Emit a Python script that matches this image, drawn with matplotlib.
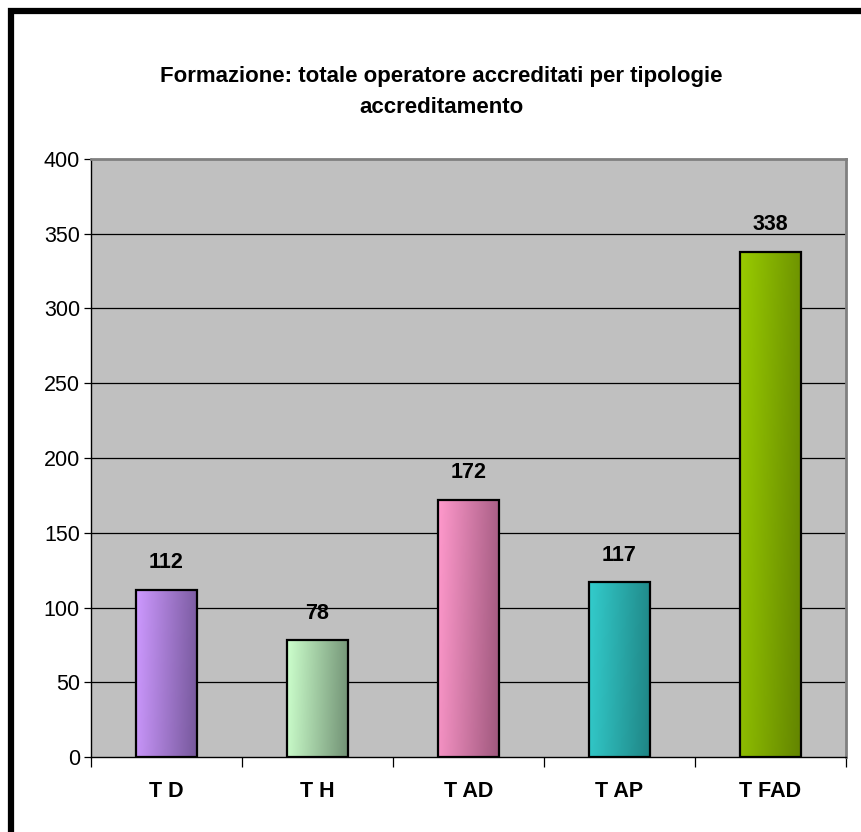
#!/usr/bin/env python3

import numpy as np
import matplotlib
matplotlib.use("Agg")
import matplotlib.pyplot as plt
from matplotlib.patches import Rectangle
from matplotlib.colors import LinearSegmentedColormap

plt.rcParams['font.family'] = ['Liberation Sans', 'DejaVu Sans']

categories = ["T D", "T H", "T AD", "T AP", "T FAD"]
values = [112, 78, 172, 117, 338]
title = "Formazione: totale operatore accreditati per tipologie\naccreditamento"

# light / dark end of each bar's shading
lightCols = ["#cd99ff", "#ccffcc", "#ff99cc", "#33cccc", "#99cc00"]
darkCols = ["#5e4680", "#56705a", "#8a4a6c", "#1a7272", "#5e7e00"]

W, H = 861, 832
fig = plt.figure(figsize=(W/100, H/100), dpi=100)
fig.patch.set_facecolor("white")

ax = fig.add_axes([91/W, 1 - 757/H, (846-91)/W, (757-159)/H])
ax.set_facecolor("#c0c0c0")

xs = np.arange(len(categories))
barW = 0.4

for y in range(50, 400, 50):
    ax.axhline(y, color="black", lw=0.9, zorder=1)

# mostly horizontal gradient, a bit darker towards the bottom
gx, gy = np.meshgrid(np.linspace(0, 1, 60), np.linspace(0, 1, 200))
for i in range(len(values)):
    rect = Rectangle((xs[i] - barW/2, 0), barW, values[i], facecolor="none",
                     edgecolor="black", lw=1.6, zorder=4)
    ax.add_patch(rect)
    cmap = LinearSegmentedColormap.from_list("c%d" % i, [lightCols[i], darkCols[i]])
    t = 0.75*gx + 0.25*(1 - gy)*(values[i]/400.0)
    img = ax.imshow(t, cmap=cmap, vmin=0, vmax=1.05, origin="lower", aspect="auto",
                    extent=(xs[i] - barW/2, xs[i] + barW/2, 0, values[i]),
                    zorder=3, interpolation="bilinear")
    img.set_clip_path(rect)
    ax.text(xs[i], values[i] + 18, str(values[i]), ha="center", va="center",
            fontsize=15.5, fontweight="bold", zorder=5)

ax.set_xlim(-0.5, len(categories) - 0.5)
ax.set_ylim(0, 400)

ax.set_yticks(range(0, 401, 50))
ax.tick_params(axis="y", direction="out", length=5, width=0.9, labelsize=15.5, pad=3)
ax.set_xticks(np.arange(-0.5, len(categories), 1.0))
ax.set_xticklabels([])
ax.set_xticks(xs, minor=True)
ax.set_xticklabels(categories, minor=True, fontsize=15.5, fontweight="bold")
ax.tick_params(axis="x", which="major", direction="out", length=7, width=0.9)
ax.tick_params(axis="x", which="minor", length=0, pad=17)

ax.spines["left"].set_color("black")
ax.spines["bottom"].set_color("black")
ax.spines["left"].set_linewidth(1.0)
ax.spines["bottom"].set_linewidth(1.0)
ax.spines["top"].set_color("#808080")
ax.spines["right"].set_color("#808080")
ax.spines["top"].set_linewidth(2.0)
ax.spines["right"].set_linewidth(2.0)

fig.text(0.5 * (148 + 735) / W, 1 - 92/H, title, ha="center", va="center",
         fontsize=16, fontweight="bold", linespacing=1.6)

# thick outer frame, only the left and top sides fall inside the image
frame = Rectangle((11/W, -0.5), 2.0, 1 - 11/H + 0.5, transform=fig.transFigure,
                  facecolor="none", edgecolor="black", lw=4.5, zorder=10)
fig.patches.append(frame)

fig.savefig("out.png", dpi=100)
